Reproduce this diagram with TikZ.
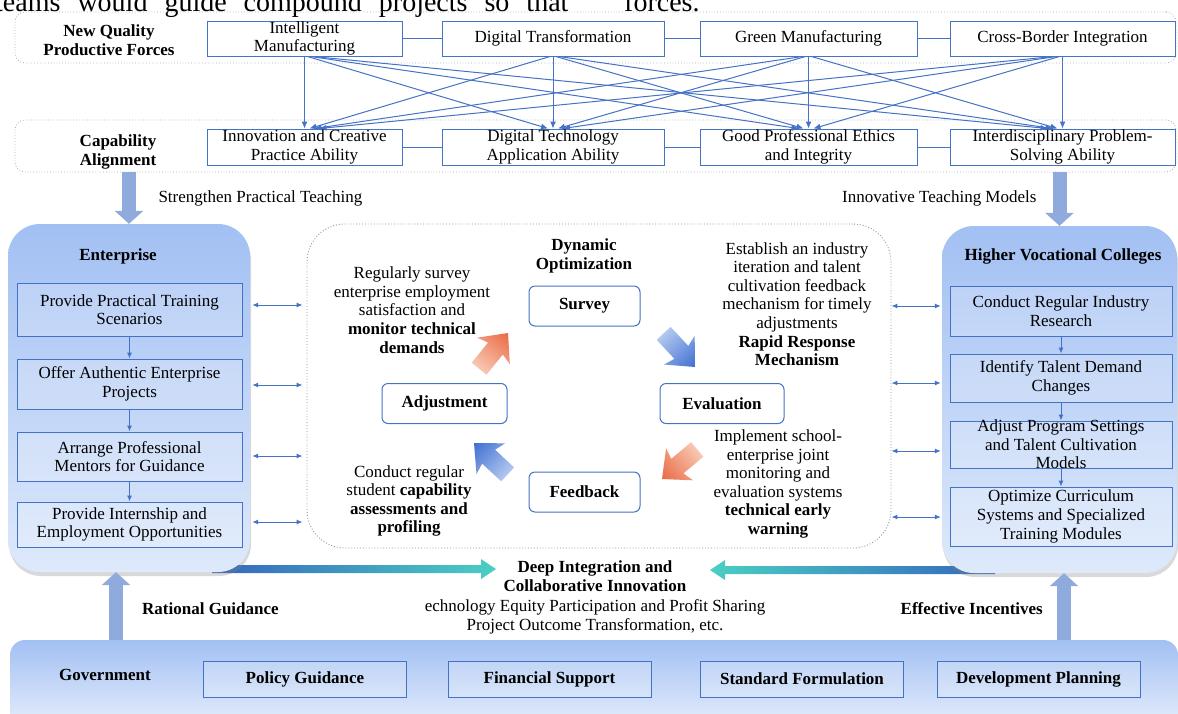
\documentclass[tikz,border=0pt]{standalone}
\usepackage{fontspec}
\setmainfont{Liberation Serif}
\usepackage{xcolor}
\usetikzlibrary{arrows.meta,positioning,calc,shadows,backgrounds}

\definecolor{linkblue}{HTML}{4472C4}
\definecolor{bandgray}{HTML}{A6AFBD}
\definecolor{midgray}{HTML}{8093B3}
\definecolor{fatblue}{HTML}{8FAADC}
\definecolor{paneltop}{HTML}{A2C0F3}
\definecolor{panelbot}{HTML}{DEE9FB}
\definecolor{govbot}{HTML}{E8EFFC}
\definecolor{orgdark}{HTML}{EA6A44}
\definecolor{orglight}{HTML}{F8C8B3}
\definecolor{bludark}{HTML}{3F6FD1}
\definecolor{blulight}{HTML}{B3C8F0}
\definecolor{flowdark}{HTML}{3566BD}
\definecolor{flowteal}{HTML}{4ACFC3}

\begin{document}
\begin{tikzpicture}[x=1pt,y=-1pt,font=\fontsize{17}{18.6}\selectfont,
    band/.style={draw=bandgray,dotted,line width=0.8pt,rounded corners=10pt,inner sep=0pt},
    qbox/.style={draw=linkblue,fill=white,line width=1pt,align=center,inner sep=0pt,minimum height=35pt},
    lbl/.style={font=\fontsize{17}{18.6}\selectfont\bfseries,align=center,inner sep=0pt},
    txt/.style={align=center,inner sep=0pt},
    link/.style={draw=linkblue,line width=1pt},
    cross/.style={link,-{Latex[length=7pt,width=6pt]}},
    flow/.style={link,-{Latex[length=6pt,width=5pt]}},
    dbl/.style={link,{Latex[length=6pt,width=5pt]}-{Latex[length=6pt,width=5pt]}},
    fat/.style={draw=fatblue,line width=14pt,-{Triangle[width=28pt,length=13pt]}},
    panel/.style={top color=paneltop,bottom color=panelbot,rounded corners=32pt,inner sep=0pt,
        drop shadow={shadow xshift=1pt,shadow yshift=-4pt,opacity=0.3}},
    ibox/.style={draw=linkblue,fill=white,fill opacity=0.2,text opacity=1,line width=1pt,align=center,inner sep=0pt},
    cbox/.style={draw=linkblue,fill=white,line width=1pt,rounded corners=6pt,inner sep=0pt,
        font=\fontsize{17}{18.6}\selectfont\bfseries,minimum height=40pt},
    gbox/.style={ibox,minimum width=203pt,minimum height=36pt,font=\fontsize{17}{18.6}\selectfont\bfseries},
    midbox/.style={draw=midgray,dotted,line width=0.9pt,rounded corners=38pt,inner sep=0pt}]
    \useasboundingbox (0,0) rectangle (1178,713);
    \clip (0,0) rectangle (1178,713);

    \node[anchor=base west,inner sep=0pt,font=\fontsize{28}{32}\selectfont] (cap) at (-5,11) {\spaceskip=17pt teams would guide compound projects so that};
    \node[anchor=base west,inner sep=0pt,font=\fontsize{28}{32}\selectfont] (capb) at (624,11) {forces.};

    \node[band,minimum width=1161pt,minimum height=51pt] (pfband) at (595.5,37.5) {};
    \node[band,minimum width=1161pt,minimum height=52pt] (caband) at (595.5,146) {};
    \node[lbl] (pflab) at (109,40) {New Quality\\Productive Forces};
    \node[lbl] (calab) at (118,152) {Capability\\Alignment};

    \node[qbox,minimum width=195pt] (im) at (304.5,38.5) {Intelligent\\Manufacturing};
    \node[qbox,minimum width=222pt] (dt) at (553,38.5) {Digital Transformation};
    \node[qbox,minimum width=217pt] (gm) at (808.5,38.5) {Green Manufacturing};
    \node[qbox,minimum width=225pt] (cb) at (1062.5,38.5) {Cross-Border Integration};
    \node[qbox,minimum width=195pt,minimum height=36pt] (ic) at (304.5,147) {Innovation and Creative\\Practice Ability};
    \node[qbox,minimum width=222pt,minimum height=36pt] (da) at (553,147) {Digital Technology\\Application Ability};
    \node[qbox,minimum width=217pt,minimum height=36pt] (pe) at (808.5,147) {Good Professional Ethics\\and Integrity};
    \node[qbox,minimum width=225pt,minimum height=36pt] (ip) at (1062.5,147) {Interdisciplinary Problem-\\Solving Ability};

    \draw[link] (im) -- (dt) (dt) -- (gm) (gm) -- (cb);
    \draw[link] (ic) -- (da) (da) -- (pe) (pe) -- (ip);
    \foreach \s [count=\i] in {im,dt,gm,cb} {
            \foreach \t [count=\j] in {ic,da,pe,ip} {
                    \draw[cross] ([xshift={(\j-\i)*3}]\s.south) -- ([xshift={(\i-\j)*5}]\t.north);
                }
        }

    \node[anchor=west] (sptlab) at (155,198) {Strengthen Practical Teaching};
    \node[anchor=east] (itmlab) at (1040,198) {Innovative Teaching Models};

    \node[panel,minimum width=242pt,minimum height=348pt] (ent) at (129,398) {};
    \node[panel,minimum width=235pt,minimum height=347pt] (hvc) at (1059.5,399.5) {};
    \node[lbl] (entlab) at (118,256) {Enterprise};
    \node[lbl] (hvclab) at (1063,256) {Higher Vocational Colleges};

    \node[ibox,minimum width=225pt,minimum height=53pt] (e1) at (129.5,309.5) {Provide Practical Training\\Scenarios};
    \node[ibox,minimum width=225pt,minimum height=50pt] (e2) at (129.5,384) {Offer Authentic Enterprise\\Projects};
    \node[ibox,minimum width=225pt,minimum height=49pt] (e3) at (129.5,456.5) {Arrange Professional\\Mentors for Guidance};
    \node[ibox,minimum width=225pt,minimum height=45pt] (e4) at (129.5,524.5) {Provide Internship and\\Employment Opportunities};
    \draw[flow] (e1) -- (e2);
    \draw[flow] (e2) -- (e3);
    \draw[flow] (e3) -- (e4);

    \node[ibox,minimum width=222pt,minimum height=50pt] (h1) at (1061,311) {Conduct Regular Industry\\Research};
    \node[ibox,minimum width=222pt,minimum height=48pt] (h2) at (1061,378) {Identify Talent Demand\\Changes};
    \node[ibox,minimum width=222pt,minimum height=47pt] (h3) at (1061,444.5) {};
    \node[txt] (h3t) at (h3) {Adjust Program Settings\\and Talent Cultivation\\Models};
    \node[ibox,minimum width=222pt,minimum height=59pt] (h4) at (1061,516.5) {Optimize Curriculum\\Systems and Specialized\\Training Modules};
    \draw[flow] (h1) -- (h2);
    \draw[flow] (h2) -- (h3);
    \draw[flow] (h3) -- (h4);

    \node[midbox,minimum width=584pt,minimum height=324pt] (mid) at (599,386) {};
    \node[lbl] (dyn) at (584,256) {Dynamic\\Optimization};
    \node[cbox,minimum width=111pt] (sur) at (584.5,306) {Survey};
    \node[cbox,minimum width=125pt] (adj) at (444.5,403.5) {Adjustment};
    \node[cbox,minimum width=124pt] (eva) at (722,403.5) {Evaluation};
    \node[cbox,minimum width=111pt] (fdb) at (584.5,492) {Feedback};
    \node[txt] (surtxt) at (412,310) {Regularly survey\\enterprise employment\\satisfaction and\\\textbf{monitor technical}\\\textbf{demands}};
    \node[txt] (rrmtxt) at (797,304) {Establish an industry\\iteration and talent\\cultivation feedback\\mechanism for timely\\adjustments\\\textbf{Rapid Response}\\\textbf{Mechanism}};
    \node[txt] (evatxt) at (778,484) {Implement school-\\enterprise joint\\monitoring and\\evaluation systems\\\textbf{technical early}\\\textbf{warning}};
    \node[txt] (fdbtxt) at (409,501) {Conduct regular\\student \textbf{capability}\\\textbf{assessments and}\\\textbf{profiling}};

    \begin{scope}[transform canvas={shift={(508,333)},rotate=51}]
        \shade[left color=orglight,right color=orgdark] (0,0) -- (-23,-21) -- (-20,-9.5) -- (-46,-9.5) -- (-46,9.5) -- (-20,9.5) -- (-23,21) -- cycle;
    \end{scope}
    \begin{scope}[transform canvas={shift={(695,367)},rotate=-47}]
        \shade[left color=blulight,right color=bludark] (0,0) -- (-23,-21) -- (-20,-9.5) -- (-46,-9.5) -- (-46,9.5) -- (-20,9.5) -- (-23,21) -- cycle;
    \end{scope}
    \begin{scope}[transform canvas={shift={(662,479)},rotate=-140}]
        \shade[left color=orglight,right color=orgdark] (0,0) -- (-23,-21) -- (-20,-9.5) -- (-46,-9.5) -- (-46,9.5) -- (-20,9.5) -- (-23,21) -- cycle;
    \end{scope}
    \begin{scope}[transform canvas={shift={(474,443)},rotate=137}]
        \shade[left color=blulight,right color=bludark] (0,0) -- (-23,-21) -- (-20,-9.5) -- (-46,-9.5) -- (-46,9.5) -- (-20,9.5) -- (-23,21) -- cycle;
    \end{scope}

    \foreach \n/\dy in {e1/-4.5,e2/1,e3/-0.5,e4/-2.5} {
            \draw[dbl] ($(ent.east |- \n)+(2,\dy)$) -- ($(mid.west |- \n)+(-4,\dy)$);
        }
    \foreach \n/\dy in {h1/-5,h2/5,h3/6.5,h4/0.5} {
            \draw[dbl] ($(mid.east |- \n)+(0,\dy)$) -- ($(hvc.west |- \n)+(-1,\dy)$);
        }

    \node[lbl] (deep) at (595,576) {Deep Integration and\\Collaborative Innovation};
    \node[txt] (share) at (595,617) {echnology Equity Participation and Profit Sharing\\Project Outcome Transformation, etc.};
    \node[lbl,anchor=west] (ratlab) at (142,609) {Rational Guidance};
    \node[lbl,anchor=east] (inclab) at (1043,609) {Effective Incentives};

    \node[top color=paneltop,bottom color=govbot,rounded corners=15pt,minimum width=1168pt,minimum height=90pt] (gov) at (594,685) {};
    \node[lbl] (govlab) at (105,675) {Government};
    \node[gbox] (pol) at (305,679) {Policy Guidance};
    \node[gbox] (fin) at (549.5,679) {Financial Support};
    \node[gbox] (std) at (802,679) {Standard Formulation};
    \node[gbox] (dev) at (1038.5,679) {Development Planning};

    \draw[fat] (caband.south -| ent.north) -- (ent.north);
    \draw[fat] (caband.south -| hvc.north) -- (hvc.north);
    \coordinate (entup) at ($(ent.south)+(-13,0)$);
    \coordinate (hvcup) at ($(hvc.south)+(4.5,0)$);
    \draw[fat] (entup |- gov.north) -- (entup);
    \draw[fat] (hvcup |- gov.north) -- (hvcup);

    \begin{scope}[on background layer]
        \shade[left color=flowdark,right color=flowteal] (212,565) -- (481,565) -- (481,559) -- (496,569) -- (481,579) -- (481,573) -- (212,573) -- cycle;
        \shade[left color=flowteal,right color=flowdark] (995,566) -- (725,566) -- (725,560) -- (710,570) -- (725,580) -- (725,574) -- (995,574) -- cycle;
    \end{scope}
\end{tikzpicture}
\end{document}
